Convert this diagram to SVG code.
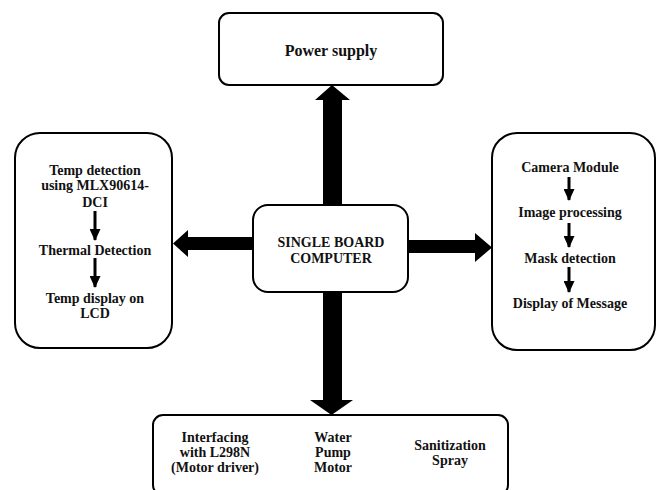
<svg xmlns="http://www.w3.org/2000/svg" width="659" height="490" viewBox="0 0 659 490">
<defs>
<style>
.box{fill:#fff;stroke:#000;stroke-width:2}
.t{font-family:"Liberation Serif","Times New Roman",serif;font-weight:bold;font-size:14px;text-anchor:middle;fill:#111}
.big{fill:#000}
.sm{stroke:#000;stroke-width:3;fill:none}
</style>
<marker id="ah" viewBox="0 0 12 11" refX="11" refY="5.5" markerWidth="12" markerHeight="11" markerUnits="userSpaceOnUse" orient="auto">
<path d="M0,0 L12,5.5 L0,11 Z" fill="#000"/>
</marker>
</defs>
<rect width="659" height="490" fill="#fff"/>
<g id="connectors">
<polygon class="big" points="323,206 323,100 315,100 332,85 350,100 342,100 342,206"/>
<polygon class="big" points="253,237 188,237 188,230 173,243.5 188,257 188,250 253,250"/>
<polygon class="big" points="408,240 475,240 475,233 492,247.5 475,262 475,253 408,253"/>
<polygon class="big" points="323,292 323,400 310,400 331.5,415 353,400 342,400 342,292"/>
</g>
<g id="power">
<rect class="box" x="219" y="13" width="224" height="72" rx="10"/>
<text class="t" x="331" y="56" style="font-size:16px">Power supply</text>
</g>
<g id="sbc">
<rect class="box" x="253" y="205" width="155" height="87" rx="15"/>
<text class="t" x="331" y="247">SINGLE BOARD</text>
<text class="t" x="331" y="263">COMPUTER</text>
</g>
<g id="temp">
<rect class="box" x="15" y="133" width="157" height="215" rx="25"/>
<text class="t" x="95" y="175">Temp detection</text>
<text class="t" x="95" y="190">using MLX90614-</text>
<text class="t" x="95" y="207">DCI</text>
<line class="sm" x1="95" y1="211" x2="95" y2="240" marker-end="url(#ah)"/>
<text class="t" x="95" y="255">Thermal Detection</text>
<line class="sm" x1="95" y1="258" x2="95" y2="287" marker-end="url(#ah)"/>
<text class="t" x="95" y="303">Temp display on</text>
<text class="t" x="95" y="318">LCD</text>
</g>
<g id="camera">
<rect class="box" x="492" y="133" width="163" height="217" rx="25"/>
<text class="t" x="570" y="172">Camera Module</text>
<line class="sm" x1="569" y1="177" x2="569" y2="200" marker-end="url(#ah)"/>
<text class="t" x="570" y="217">Image processing</text>
<line class="sm" x1="569" y1="223" x2="569" y2="247" marker-end="url(#ah)"/>
<text class="t" x="570" y="263">Mask detection</text>
<line class="sm" x1="569" y1="267" x2="569" y2="292" marker-end="url(#ah)"/>
<text class="t" x="570" y="308">Display of Message</text>
</g>
<g id="outputs">
<rect class="box" x="153" y="415" width="355" height="80" rx="10"/>
<text class="t" x="215" y="442">Interfacing</text>
<text class="t" x="215" y="457">with L298N</text>
<text class="t" x="215" y="472">(Motor driver)</text>
<text class="t" x="333" y="442">Water</text>
<text class="t" x="333" y="457">Pump</text>
<text class="t" x="333" y="472">Motor</text>
<text class="t" x="450" y="450">Sanitization</text>
<text class="t" x="450" y="465">Spray</text>
</g>
</svg>
